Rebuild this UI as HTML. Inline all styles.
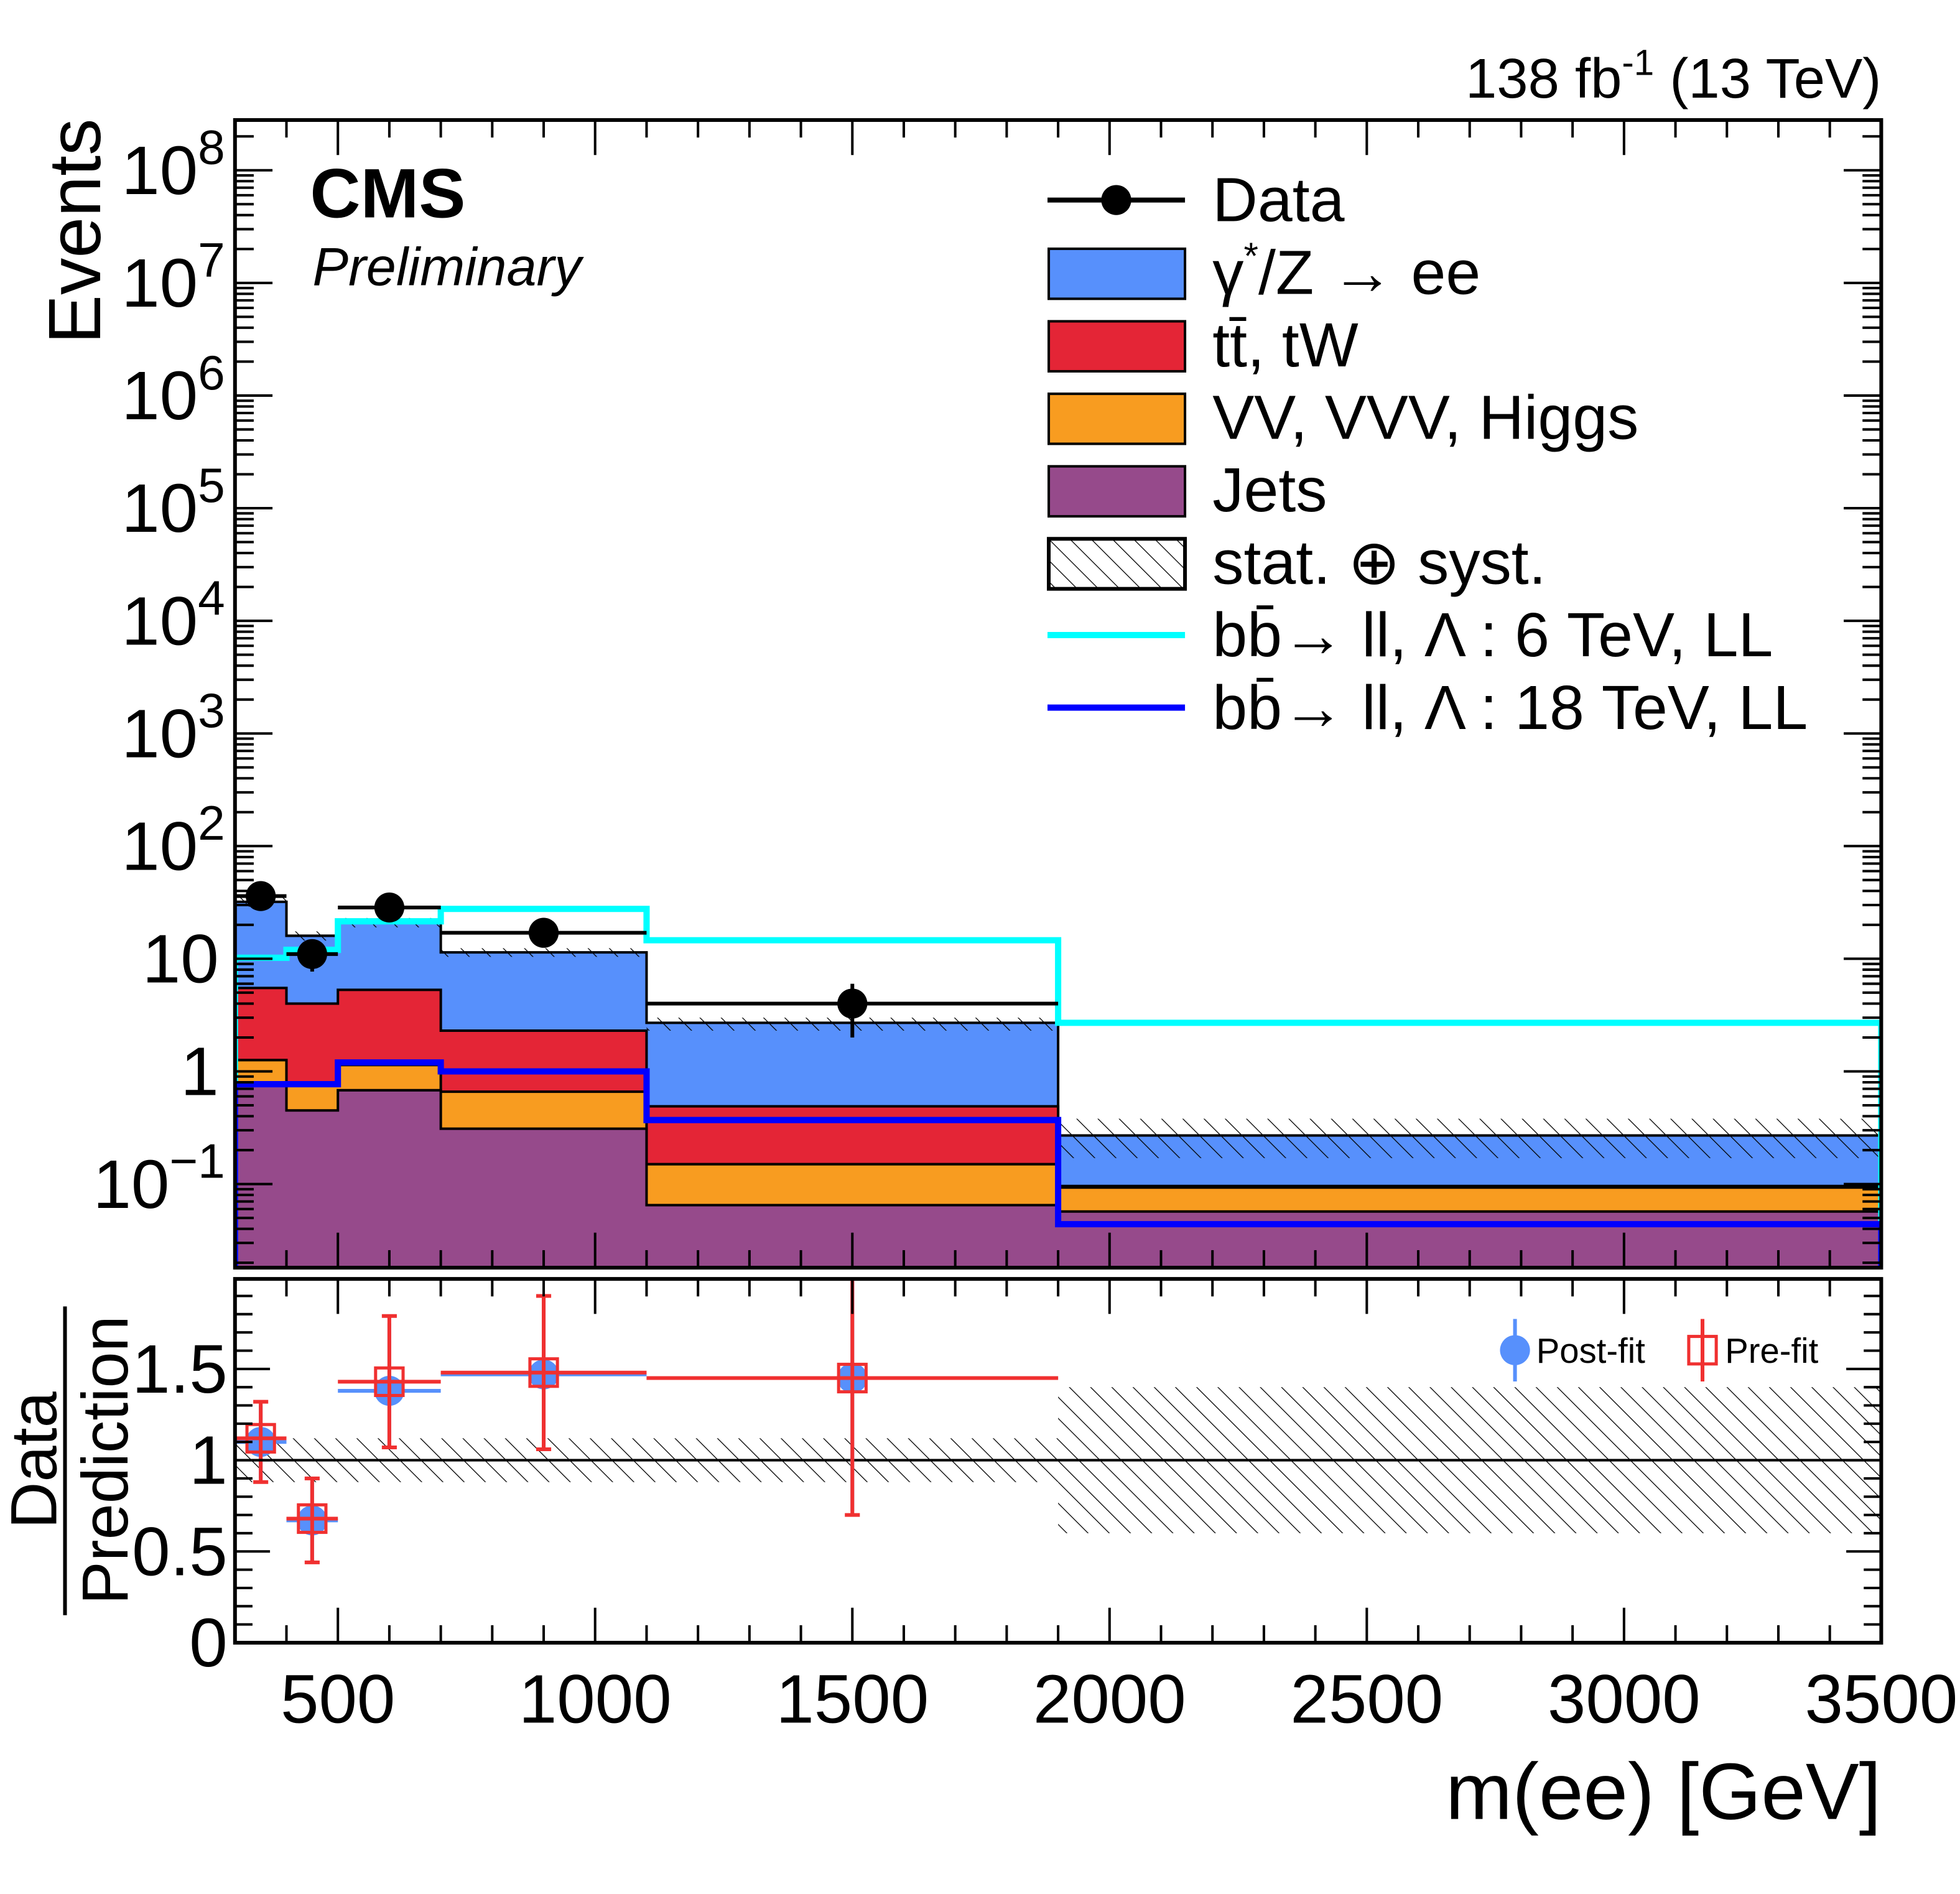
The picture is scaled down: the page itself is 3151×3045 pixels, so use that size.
<!DOCTYPE html>
<html><head><meta charset="utf-8"><style>
html,body{margin:0;padding:0;background:#fff}
svg{display:block}
text{font-family:"Liberation Sans","DejaVu Sans",sans-serif;fill:#000}
</style></head><body>
<svg id="c" width="3151" height="3045" viewBox="0 0 1568 1515" preserveAspectRatio="none" xmlns="http://www.w3.org/2000/svg">
<defs>
<pattern id="hatch" patternUnits="userSpaceOnUse" width="12" height="12" patternTransform="rotate(-45)">
<line x1="0" y1="0" x2="0" y2="12" stroke="#000" stroke-width="1.3"/>
</pattern>
<clipPath id="cu"><rect x="188" y="96" width="1317" height="918"/></clipPath>
<clipPath id="cl"><rect x="188" y="1023" width="1317" height="291"/></clipPath>
</defs>
<g id="upper" clip-path="url(#cu)"></g>
<g id="lower" clip-path="url(#cl)"></g>
<g id="axes"></g>
<text x="1505" y="78" text-anchor="end" font-size="45">138 fb<tspan dy="-18" font-size="29">-1</tspan><tspan dy="18"> (13 TeV)</tspan></text>
<text x="248" y="174" font-size="56" font-weight="bold">CMS</text>
<text x="250" y="228" font-size="43" font-style="italic">Preliminary</text>
<text transform="translate(80,185) rotate(-90)" text-anchor="middle" font-size="59">Events</text>
<g>
<text transform="translate(45,1168) rotate(-90)" text-anchor="middle" font-size="52">Data</text>
<line x1="52" y1="1045" x2="52" y2="1292" stroke="#000" stroke-width="3"/>
<text transform="translate(102,1168) rotate(-90)" text-anchor="middle" font-size="52">Prediction</text>
</g>
<text x="1505" y="1455" text-anchor="end" font-size="64">m(ee) [GeV]</text>
<g id="legend">
<g><line x1="838" y1="160" x2="948" y2="160" stroke="#000" stroke-width="4"/><circle cx="893" cy="160" r="12"/><text x="970" y="177" font-size="50">Data</text></g>
<g><rect x="839" y="199" width="109" height="40" fill="#5790fc" stroke="#000" stroke-width="2"/><text x="970" y="235" font-size="50">γ<tspan dy="-20" font-size="30">*</tspan><tspan dy="20">/Z → ee</tspan></text></g>
<g><rect x="839" y="257" width="109" height="40" fill="#e42536" stroke="#000" stroke-width="2"/><text x="970" y="293" font-size="50">tt̄, tW</text></g>
<g><rect x="839" y="315" width="109" height="40" fill="#f89c20" stroke="#000" stroke-width="2"/><text x="970" y="351" font-size="50">VV, VVV, Higgs</text></g>
<g><rect x="839" y="373" width="109" height="40" fill="#964a8b" stroke="#000" stroke-width="2"/><text x="970" y="409" font-size="50">Jets</text></g>
<g><rect x="839" y="431" width="109" height="40" fill="url(#hatch)" stroke="#000" stroke-width="3"/><text x="970" y="467" font-size="50">stat. ⊕ syst.</text></g>
<g><line x1="838" y1="508" x2="948" y2="508" stroke="#00ffff" stroke-width="5"/><text x="970" y="525" font-size="50">bb̄→ ll, Λ : 6 TeV, LL</text></g>
<g><line x1="838" y1="566" x2="948" y2="566" stroke="#0000ff" stroke-width="5"/><text x="970" y="583" font-size="50">bb̄→ ll, Λ : 18 TeV, LL</text></g>
</g>
<g>
<g><line x1="1212" y1="1055" x2="1212" y2="1105" stroke="#5790fc" stroke-width="3"/><circle cx="1212" cy="1080" r="12" fill="#5790fc"/><text x="1229" y="1090" font-size="28">Post-fit</text></g>
<g><line x1="1362" y1="1055" x2="1362" y2="1105" stroke="#f03030" stroke-width="3"/><rect x="1351" y="1069" width="22" height="22" fill="none" stroke="#f03030" stroke-width="2.5"/><text x="1380" y="1090" font-size="28">Pre-fit</text></g>
</g>
</svg>
<script>
const edges=[300,400,500,700,1100,1900,3500];
const jets=[0.75,0.45,0.68,0.31,0.065,0.057];
const vvCum=[1.26,0.79,1.14,0.66,0.15,0.093];
const ttCum=[5.5,4.0,5.3,2.3,0.49,0.096];
const dyCum=[32,16,21,11.4,2.7,0.27];
const uncLo=[29,14.5,19,10.4,2.3,0.17];
const uncHi=[35,17.5,23,12.4,3.0,0.38];
const dataVals=[36,11,28.5,17,4.0];
const dataErr=[6,3.3,5.3,4.1,2.0];
const sig6=[10.2,12,21.5,27.7,14.6,2.7];
const sig18=[0.77,0.77,1.2,1.0,0.37,0.044];
const postFit=[1.1,0.67,1.38,1.47,1.45];
const preFit=[1.12,0.68,1.43,1.48,1.45];
const preErrLo=[0.88,0.44,1.07,1.06,0.7];
const preErrHi=[1.32,0.9,1.79,1.9,2.3];
const postErrLo=[0.9,0.45,1.07,1.05,0.72];
const postErrHi=[1.3,0.88,1.75,1.88,2.2];
const ratioUnc=[0.12,0.12,0.12,0.12,0.12,0.4];
const xTicks=[500,1000,1500,2000,2500,3000,3500];
const yTickExp=[-1,0,1,2,3,4,5,6,7,8];
const ratioTicks=[0,0.5,1,1.5];
const ratioTickLabels=["0","0.5","1","1.5"];

const NS="http://www.w3.org/2000/svg";
const X0=188,X1=1505,YT=96,YB=1014,RT=1023,RB=1314;
const X=v=>X0+(v-300)*(X1-X0)/3200;
const Y=v=>Math.min(YB+5,Math.max(YT-5,857-90.1*Math.log10(v)));
const R=v=>1314-146*v;
function mk(tag,attrs,parent){const e=document.createElementNS(NS,tag);for(const k in attrs)e.setAttribute(k,attrs[k]);parent.appendChild(e);return e;}
const up=document.getElementById('upper'),lo=document.getElementById('lower'),ax=document.getElementById('axes');
function stepPath(vals,closed){let d='';vals.forEach((v,i)=>{const a=X(edges[i]),b=X(edges[i+1]),y=Y(v);d+=(i==0?`M${a},${YB+5} L${a},${y}`:` L${a},${y}`)+` L${b},${y}`;});d+=` L${X(edges[vals.length])},${YB+5}`;if(closed)d+=' Z';return d;}
[[dyCum,'#5790fc','stack-dy'],[ttCum,'#e42536','stack-ttbar'],[vvCum,'#f89c20','stack-vv'],[jets,'#964a8b','stack-jets']].forEach(([v,c,n])=>{
 const p=mk('path',{d:stepPath(v,true),fill:c,stroke:'#000','stroke-width':2},up);
 
 
});
uncLo.forEach((l,i)=>{const r=mk('rect',{x:X(edges[i]),y:Y(uncHi[i]),width:X(edges[i+1])-X(edges[i]),height:Y(l)-Y(uncHi[i]),fill:'url(#hatch)'},up);
 
 });
[[sig6,'#00ffff','signal-6tev'],[sig18,'#0000ff','signal-18tev']].forEach(([v,c,n])=>{
 const p=mk('path',{d:stepPath(v,false),fill:'none',stroke:c,'stroke-width':5},up);
 
 
});
dataVals.forEach((v,i)=>{const g=mk('g',{},up);
 
 
 const cx=(X(edges[i])+X(edges[i+1]))/2;
 mk('line',{x1:X(edges[i]),x2:X(edges[i+1]),y1:Y(v),y2:Y(v),stroke:'#000','stroke-width':3},g);
 mk('line',{x1:cx,x2:cx,y1:Y(v+dataErr[i]),y2:Y(Math.max(v-dataErr[i],0.02)),stroke:'#000','stroke-width':3},g);
 mk('circle',{cx:cx,cy:Y(v),r:12,fill:'#000'},g);});
ratioUnc.forEach((u,i)=>{const r=mk('rect',{x:X(edges[i]),y:R(1+u),width:X(edges[i+1])-X(edges[i]),height:R(1-u)-R(1+u),fill:'url(#hatch)'},lo);
 
 });
mk('line',{x1:X0,x2:X1,y1:R(1),y2:R(1),stroke:'#000','stroke-width':2},lo);
postFit.forEach((v,i)=>{const g=mk('g',{},lo);
 
 
 const cx=(X(edges[i])+X(edges[i+1]))/2;
 mk('line',{x1:X(edges[i]),x2:X(edges[i+1]),y1:R(v),y2:R(v),stroke:'#5790fc','stroke-width':3},g);
 mk('line',{x1:cx,x2:cx,y1:R(postErrHi[i]),y2:R(postErrLo[i]),stroke:'#5790fc','stroke-width':3},g);
 mk('circle',{cx:cx,cy:R(v),r:12,fill:'#5790fc'},g);});
preFit.forEach((v,i)=>{const g=mk('g',{},lo);
 
 
 const cx=(X(edges[i])+X(edges[i+1]))/2;
 mk('line',{x1:X(edges[i]),x2:X(edges[i+1]),y1:R(v),y2:R(v),stroke:'#f03030','stroke-width':3},g);
 mk('line',{x1:cx,x2:cx,y1:R(preErrHi[i]),y2:R(preErrLo[i]),stroke:'#f03030','stroke-width':3},g);
 [preErrHi[i],preErrLo[i]].forEach(e=>mk('line',{x1:cx-6,x2:cx+6,y1:R(e),y2:R(e),stroke:'#f03030','stroke-width':3},g));
 mk('rect',{x:cx-11,y:R(v)-11,width:22,height:22,fill:'none',stroke:'#f03030','stroke-width':2.5},g);});
mk('rect',{x:X0,y:YT,width:X1-X0,height:YB-YT,fill:'none',stroke:'#000','stroke-width':3},ax);
mk('rect',{x:X0,y:RT,width:X1-X0,height:RB-RT,fill:'none',stroke:'#000','stroke-width':3},ax);
for(let v=300;v<=3500;v+=100){const x=X(v),L=(v%500==0)?28:14;
 [[YB,-1],[YT,1],[RB,-1],[RT,1]].forEach(([y,s])=>mk('line',{x1:x,x2:x,y1:y,y2:y+s*L,stroke:'#000','stroke-width':2},ax));}
xTicks.forEach(v=>{const t=mk('text',{x:X(v),y:1378,'text-anchor':'middle','font-size':55},ax);t.textContent=v;
 
 });
for(let e=-2;e<=8;e++){for(let m=1;m<10;m++){const v=m*Math.pow(10,e),y=Y(v);if(y<YT||y>YB)continue;const L=m==1?30:15;
 mk('line',{x1:X0,x2:X0+L,y1:y,y2:y,stroke:'#000','stroke-width':2},ax);mk('line',{x1:X1,x2:X1-L,y1:y,y2:y,stroke:'#000','stroke-width':2},ax);}}
yTickExp.forEach(e=>{const y=Y(Math.pow(10,e))+19;const t=mk('text',{x:175,y:y,'text-anchor':'end','font-size':55},ax);
 
 
 if(e==0)t.textContent='1';else if(e==1)t.textContent='10';
 else{t.textContent='10';const s=mk('tspan',{dy:-24,'font-size':39},t);s.textContent=(e<0?'−':'')+Math.abs(e);t.setAttribute('x',180);}
});
for(let v=0;v<=1.95;v+=0.1){const y=R(v),L=(Math.abs(v*2-Math.round(v*2))<1e-6)?28:14;
 mk('line',{x1:X0,x2:X0+L,y1:y,y2:y,stroke:'#000','stroke-width':2},ax);mk('line',{x1:X1,x2:X1-L,y1:y,y2:y,stroke:'#000','stroke-width':2},ax);}
ratioTicks.forEach((v,i)=>{const t=mk('text',{x:182,y:R(v)+19,'text-anchor':'end','font-size':55},ax);t.textContent=ratioTickLabels[i];
 
 });
</script>
</body></html>
